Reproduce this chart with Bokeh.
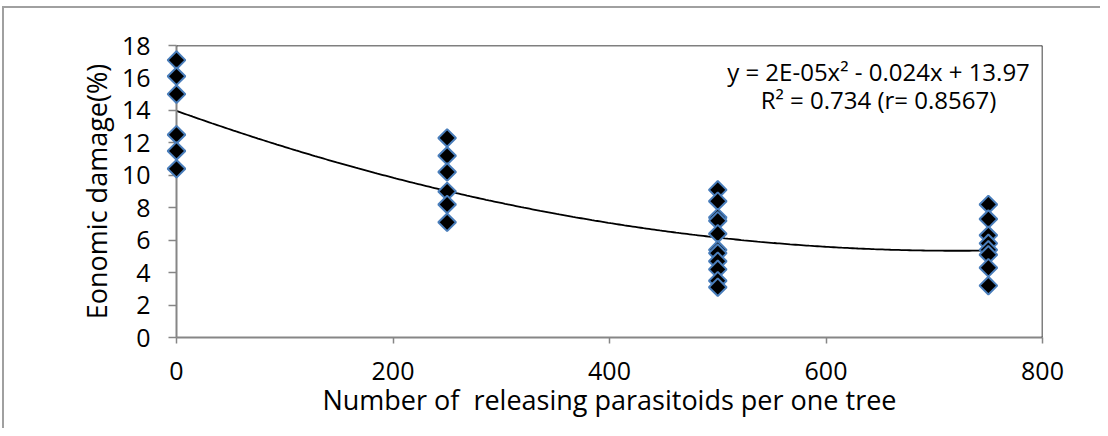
import numpy as np
from bokeh.plotting import figure
from bokeh.models import Range1d, FixedTicker, Span, Label, ColumnDataSource, InlineStyleSheet
from bokeh.embed import file_html
from bokeh.resources import INLINE

# ---- data ----
release_levels = [0, 250, 500, 750]
damage_at_0 = [17.1, 16.1, 15.0, 12.5, 11.5, 10.4]
damage_at_250 = [12.3, 11.2, 10.2, 9.0, 8.2, 7.1]
damage_at_500 = [9.1, 8.4, 7.4, 7.2, 6.4, 5.4, 5.2, 4.7, 4.2, 3.5, 3.1]
damage_at_750 = [8.2, 7.3, 6.3, 5.8, 5.4, 5.1, 4.3, 3.2]
trend_coeffs = [1.656e-5, -0.0239, 13.97]   # quadratic trendline (a, b, c)
x_ticks = [0, 200, 400, 600, 800]
y_ticks = [0, 2, 4, 6, 8, 10, 12, 14, 16, 18]
x_title = "Number of \u00a0releasing parasitoids per one tree"
y_title = "Eonomic damage(%)"
eq_line1 = "y = 2E-05x\u00b2 - 0.024x + 13.97"
eq_line2 = "R\u00b2 = 0.734 (r= 0.8567)"

groups = [damage_at_0, damage_at_250, damage_at_500, damage_at_750]
xs, ys = [], []
for lvl, vals in zip(release_levels, groups):
    xs += [lvl] * len(vals)
    ys += vals
src = ColumnDataSource(dict(x=xs, y=ys))

tx = np.linspace(release_levels[0], release_levels[-1], 300)
a, b, c = trend_coeffs
ty = a * tx ** 2 + b * tx + c

FONT = "Open Sans"
W, H = 1092, 420
ML, MR, MT, MB = 176, 50, 45, 73

p = figure(width=W, height=H, output_backend="svg", toolbar_location=None,
           x_range=Range1d(0, 800), y_range=Range1d(0, 18),
           min_border_left=ML, min_border_right=MR, min_border_top=MT, min_border_bottom=MB)
p.stylesheets = [InlineStyleSheet(css="""
:host { position: relative; }
:host::after { content: ''; position: absolute; left: 2px; top: 6px; right: -8px; bottom: -8px;
  border-top: 2px solid #a0a0a0; border-left: 2px solid #a0a0a0; pointer-events: none; z-index: 100; }
""")]
p.grid.visible = False
p.outline_line_color = None
p.background_fill_color = "white"
p.border_fill_color = "white"

for ax in (p.xaxis[0], p.yaxis[0]):
    ax.axis_line_color = "#868686"
    ax.axis_line_width = 2
    ax.major_tick_line_color = "#868686"
    ax.major_tick_line_width = 1.5
    ax.minor_tick_line_color = None
    ax.major_tick_in = 0
    ax.major_label_text_font = FONT
    ax.major_label_text_font_size = "25px"
    ax.major_label_text_color = "black"
    ax.axis_label_text_font = FONT
    ax.axis_label_text_font_size = "27px"
    ax.axis_label_text_font_style = "normal"
    ax.axis_label_text_color = "black"

p.xaxis.ticker = FixedTicker(ticks=x_ticks)
p.yaxis.ticker = FixedTicker(ticks=y_ticks)
p.xaxis.axis_label = x_title
p.yaxis.axis_label = y_title
p.xaxis.major_tick_out = 6
p.yaxis.major_tick_out = 8
p.xaxis.major_label_standoff = 18
p.yaxis.major_label_standoff = 18
p.xaxis.axis_label_standoff = -2
p.yaxis.axis_label_standoff = 4

# plot-area frame (top and right black)
p.add_layout(Span(location=18, dimension="width", line_color="black", line_width=1.5))
p.add_layout(Span(location=800, dimension="height", line_color="black", line_width=1.5))

# trendline
p.line(tx, ty, line_color="black", line_width=1.8)

# markers
r = p.scatter("x", "y", source=src, marker="square", angle=np.pi / 4, size=12.5,
              fill_color="black", line_color="#4a7ebb", line_width=2)
r.level = "overlay"

# equation labels
for txt, yy in ((eq_line1, 16.37), (eq_line2, 14.69)):
    p.add_layout(Label(x=648.5, y=yy, text=txt, text_align="center", text_baseline="middle",
                       text_font=FONT, text_font_size="24px", text_color="black"))

open("out.html", "w").write(file_html(p, INLINE))
